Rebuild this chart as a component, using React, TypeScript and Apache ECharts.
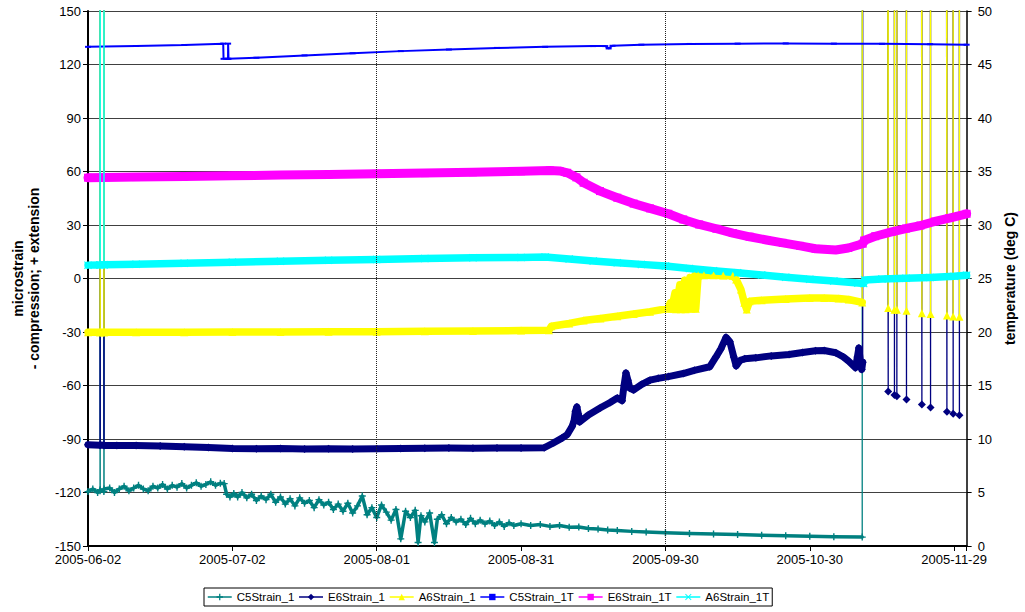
import React, { useEffect, useRef } from 'react';
import * as echarts from 'echarts';

// Off-scale logger reading (lines run up off the chart)
const OFF = 9999;

const START_UTC = Date.UTC(2005, 5, 2);
const X_TICK_DAYS = [0, 30, 60, 90, 120, 150, 180];
const X_GRID_DAYS = [60, 120];
const X_MAX_DAY = 182.6;

// [day since 2005-06-02, microstrain]
const c5Strain: [number, number][] = [
  [0, -119.5], [1, -118], [2, -120], [2.5, -119], [2.52, OFF], [2.54, -118.5], [3.3, -119.5], [3.32, OFF], [3.34, -118],
  [4.5, -117.5], [5.5, -120], [6.5, -118], [7.5, -116.5], [8.5, -119], [9.5, -117.5], [10.5, -116], [11.5, -118],
  [12.5, -119], [13.5, -116.5], [14.5, -117.5], [15.5, -115.5], [16.5, -118], [17.5, -116], [18.5, -117], [19.5, -115],
  [20.5, -117.5], [21.5, -116], [22.5, -114.5], [23.5, -116.5], [24.5, -115.5], [25.5, -114], [26.5, -116], [27.5, -114.8],
  [28.3, -115], [28.8, -121], [29.5, -122.5], [30.3, -120.5], [31.1, -122.5], [32, -120], [33, -123], [34, -121],
  [35, -124.5], [36, -122], [37, -124], [38, -121], [39, -125.5], [40, -122.5], [41, -126.5], [42, -123.5], [43, -127.5],
  [44, -123], [45, -126], [46, -124.5], [47, -128.5], [48, -124], [49, -127], [50, -125.5], [51, -129.5], [52, -126.5],
  [53, -130.5], [54, -126], [55, -131.5], [56, -127.5], [57, -122], [58, -132.5], [59, -128.5], [60, -134], [61, -127],
  [62, -131], [63, -135.5], [64, -129.5], [65, -146], [66, -130.5], [67, -134], [68, -130], [68.6, -148], [69.2, -133],
  [70, -136.5], [71, -131.5], [72, -148], [72.6, -135], [73.5, -132.5], [74.5, -137.5], [75.5, -134], [76.5, -136.5],
  [77.5, -135], [78.5, -138], [79.5, -134.5], [80.5, -137.5], [81.5, -135.5], [82.5, -137.5], [83.5, -136], [84.5, -138.5],
  [85.5, -136.5], [86.5, -139], [87.5, -137], [88.5, -138.5], [90, -137.5], [92, -138.5], [94, -138], [96, -139],
  [98, -138.5], [100, -139.5], [102, -139.3], [104, -140.2], [106, -140.5], [108, -141], [110, -141.3], [113, -141.8],
  [116, -142.2], [120, -142.6], [125, -143], [130, -143.3], [135, -143.6], [140, -144], [145, -144.3], [150, -144.6],
  [155, -144.8], [160.9, -145], [161.2, OFF],
];

const e6Strain: [number, number][] = [
  [0, -93.2], [2.5, -93.5], [2.52, OFF], [2.54, -93.4], [3.3, -93.5], [3.32, OFF], [3.34, -93.6], [6, -93.6], [10, -93.7],
  [15, -93.9], [20, -94.3], [25, -94.8], [30, -95.3], [35, -95.5], [40, -95.3], [45, -95.6], [50, -95.4], [55, -95.6],
  [60, -95.5], [65, -95.3], [70, -95.2], [75, -95.1], [80, -95.2], [85, -95.0], [90, -95.0], [94.8, -94.9],
  [96.8, -92.1], [98.5, -89.5], [99.6, -87.5], [100.6, -83.0], [101.0, -80.0], [101.3, -74.5], [101.6, -72.0],
  [101.9, -76.0], [102.2, -80.4], [104, -76.5], [106.5, -72.5], [108.5, -69.5], [110, -67.0], [111, -68.5],
  [111.4, -60], [111.8, -53], [112.2, -57], [112.6, -61.5], [113.4, -62.5], [115, -59.5], [116.8, -57.0],
  [118.5, -56.0], [120.6, -55.0], [123.7, -53.3], [126, -51.5], [129.2, -49.5], [130.5, -44], [131.5, -39.5],
  [132.6, -33.0], [133.4, -35.5], [134.2, -44], [134.7, -49.0], [135.5, -46], [136.5, -45], [138.8, -44.5],
  [142, -43.4], [145.7, -42.6], [148.5, -41.5], [151.2, -40.5], [153, -40.4], [155.4, -41.6], [157, -44.0],
  [158.1, -46.4], [159.5, -50.0], [159.9, -44], [160.2, -39], [160.5, -46], [160.8, -51], [161.0, -47], [161.2, OFF],
  [166.3, -63.3], [166.6, OFF], [167.6, -65.3], [167.9, OFF], [168.1, -66.0], [168.4, OFF], [170.1, -67.9], [170.4, OFF],
  [173.3, -70.7], [173.6, OFF], [175.1, -72.3], [175.4, OFF], [178.5, -74.7], [178.8, OFF], [179.8, -75.9], [180.1, OFF],
  [181.1, -76.7], [181.4, OFF],
];

const a6Strain: [number, number][] = [
  [0, -30.2], [2.5, -30.2], [2.52, OFF], [2.54, -30.2], [3.3, -30.2], [3.32, OFF], [3.34, -30.2], [10, -30.2], [20, -30.1],
  [30, -30.0], [40, -30.0], [50, -29.9], [60, -29.8], [70, -29.6], [80, -29.4], [90, -29.2], [95.8, -29.0],
  [96.3, -26.8], [100, -25.2], [103, -23.6], [106.5, -22.4], [110, -21.2], [113.4, -19.9], [116.8, -18.6],
  [120.6, -16.8], [121.0, -13.6], [121.3, -17.0], [122.0, -8.0], [122.2, -17.2], [123.0, -3.5], [123.2, -17.2],
  [124.0, -1.0], [124.2, -17.2], [125.1, 0.5], [125.3, -17.0], [126.1, 1.5], [126.3, -17.0], [126.8, 1.7], [128, 1.8],
  [130, 1.8], [132, 1.7], [134, 1.5], [134.7, -0.5], [135.7, -6.2], [136.4, -13.6], [136.9, -17.4], [137.5, -12.8],
  [140, -12.2], [145, -11.5], [150, -11.0], [153, -10.9], [156, -11.2], [158.1, -11.8], [160.9, -13.4], [161.2, OFF],
  [166.3, -16.5], [166.6, OFF], [167.6, -17.5], [167.9, OFF], [168.1, -17.5], [168.4, OFF], [170.1, -18.1], [170.4, OFF],
  [173.3, -19.5], [173.6, OFF], [175.1, -19.9], [175.4, OFF], [178.5, -20.7], [178.8, OFF], [179.8, -21.3], [180.1, OFF],
  [181.1, -21.5], [181.4, OFF],
];

// [day, deg C]
const c5Temp: [number, number][] = [
  [0, 46.65], [10, 46.73], [20, 46.82], [28.1, 46.95], [28.17, 45.53], [29.1, 45.53], [29.12, 46.95], [29.2, 45.53],
  [35, 45.63], [45, 45.85], [55, 46.05], [65, 46.25], [75, 46.4], [85, 46.55], [95, 46.65], [105, 46.72], [107.5, 46.72],
  [108.2, 46.5], [109, 46.75], [115, 46.85], [125, 46.92], [135, 46.95], [145, 46.97], [155, 46.95], [165, 46.93],
  [175, 46.9], [182.6, 46.85],
];

const e6Temp: [number, number][] = [
  [0, 34.42], [10, 34.48], [20, 34.53], [30, 34.6], [40, 34.67], [50, 34.72], [60, 34.78], [70, 34.85], [80, 34.93],
  [90, 35.02], [96, 35.1], [98, 35.05], [99.6, 34.88], [101.5, 34.45], [103, 33.95], [106.4, 33.17], [110, 32.55],
  [113.4, 32.0], [116.8, 31.55], [120.6, 31.05], [123.7, 30.52], [127, 30.05], [130.6, 29.65], [134, 29.25],
  [137.5, 28.9], [141, 28.6], [144.4, 28.33], [148, 28.05], [151.2, 27.78], [155.4, 27.67], [158, 27.85], [161.0, 28.25],
  [161.3, 28.55], [163.6, 28.95], [167, 29.35], [170, 29.67], [173, 29.95], [176, 30.33], [179, 30.65], [182.6, 31.05],
];

const a6Temp: [number, number][] = [
  [0, 26.25], [2.5, 26.27], [2.52, OFF], [2.54, 26.27], [3.3, 26.28], [3.32, OFF], [3.34, 26.28], [10, 26.33], [20, 26.43],
  [30, 26.53], [40, 26.62], [50, 26.7], [60, 26.78], [70, 26.87], [80, 26.93], [90, 26.97], [95, 27.0], [100, 26.83],
  [105, 26.63], [110, 26.47], [115, 26.32], [120, 26.17], [125, 25.93], [130, 25.72], [135, 25.53], [140, 25.33],
  [145, 25.12], [150, 24.93], [155, 24.77], [160, 24.57], [161.2, 24.53], [161.4, 24.87], [165, 24.95], [170, 25.02],
  [175, 25.1], [180, 25.2], [182.6, 25.3],
];

const FONT = '"Liberation Sans", Arial, Helvetica, sans-serif';
const PLUS = 'path://M4,0H6V4H10V6H6V10H4V6H0V4H4Z';
const XMARK = 'path://M1,0L5,4L9,0L10,1L6,5L10,9L9,10L5,6L1,10L0,9L4,5L0,1Z';
const DASH = 'path://M0,0H10V3H0Z';

const pad = (n: number) => (n < 10 ? '0' + n : '' + n);
const fmtDate = (d: number) => {
  const t = new Date(START_UTC + Math.round(d) * 86400000);
  return `${t.getUTCFullYear()}-${pad(t.getUTCMonth() + 1)}-${pad(t.getUTCDate())}`;
};

const DEFS = [
  { name: 'C5Strain_1', data: c5Strain, color: '#008080', y: 0, symbol: PLUS, size: 7, band: 3.5 },
  { name: 'E6Strain_1', data: e6Strain, color: '#000080', y: 0, symbol: 'diamond', size: 8, band: 7 },
  { name: 'A6Strain_1', data: a6Strain, color: '#FFFF00', y: 0, symbol: 'triangle', size: 8, band: 7.5 },
  { name: 'C5Strain_1T', data: c5Temp, color: '#0000FF', y: 1, symbol: DASH, size: [6, 2], band: 0 },
  { name: 'E6Strain_1T', data: e6Temp, color: '#FF00FF', y: 1, symbol: 'rect', size: 8, band: 9 },
  { name: 'A6Strain_1T', data: a6Temp, color: '#00FFFF', y: 1, symbol: XMARK, size: 8, band: 7.5 },
];

export default function App() {
  const ref = useRef<HTMLDivElement>(null);
  useEffect(() => {
    if (!ref.current) return;
    const chart = echarts.init(ref.current, undefined, { renderer: 'svg' });
    const series: any[] = [];
    DEFS.forEach((d, i) => {
      if (d.band > 0) {
        const band: any = {
          type: 'line',
          name: d.name + ' band',
          xAxisIndex: 0,
          yAxisIndex: d.y,
          data: d.data.map((p) => (p[1] >= OFF ? [p[0], '-'] : p)),
          showSymbol: false,
          symbol: 'none',
          connectNulls: false,
          silent: true,
          clip: true,
          lineStyle: { width: d.band, color: d.color, cap: 'round', join: 'round' },
          itemStyle: { color: d.color },
        };
        if (i === 0) {
          band.markLine = {
            silent: true,
            symbol: ['none', 'none'],
            label: { show: false },
            lineStyle: { type: 'dotted', color: '#222', width: 1 },
            data: X_GRID_DAYS.map((x) => ({ xAxis: x })),
          };
        }
        series.push(band);
      }
      series.push({
        type: 'line',
        name: d.name,
        xAxisIndex: 0,
        yAxisIndex: d.y,
        data: d.data,
        symbol: d.symbol,
        symbolSize: d.size,
        showSymbol: true,
        clip: true,
        lineStyle: { width: d.band > 0 ? 1.3 : 2, color: d.color },
        itemStyle: { color: d.color },
      });
    });

    const axisText = { color: '#000', fontSize: 13, fontFamily: FONT };
    chart.setOption({
      animation: false,
      backgroundColor: '#fff',
      grid: { left: 88, right: 53, top: 11, bottom: 66, containLabel: false },
      legend: {
        data: DEFS.map((d) => d.name),
        left: 204,
        top: 588,
        orient: 'horizontal',
        itemWidth: 24,
        itemHeight: 8,
        itemGap: 4,
        padding: [3, 3, 3, 3],
        borderColor: '#000',
        borderWidth: 1,
        selectedMode: false,
        lineStyle: { width: 1.5 },
        textStyle: { color: '#000', fontSize: 11.5, fontFamily: FONT },
      },
      xAxis: [
        {
          type: 'value',
          min: 0,
          max: X_MAX_DAY,
          interval: 30,
          axisLine: { show: true, onZero: false, lineStyle: { color: '#000', width: 2 } },
          axisTick: { show: true, length: 5, lineStyle: { color: '#000', width: 1 } },
          axisLabel: {
            ...axisText,
            margin: 7,
            formatter: (v: number) => (X_TICK_DAYS.indexOf(Math.round(v * 10) / 10) >= 0 ? fmtDate(v) : ''),
          },
          splitLine: { show: false },
        },
      ],
      yAxis: [
        {
          type: 'value',
          min: -150,
          max: 150,
          interval: 30,
          position: 'left',
          name: 'microstrain\n- compression; + extension',
          nameLocation: 'middle',
          nameRotate: 90,
          nameGap: 46,
          nameTextStyle: { color: '#000', fontWeight: 'bold', fontSize: 14, lineHeight: 16, fontFamily: FONT },
          axisLine: { show: true, onZero: false, lineStyle: { color: '#000', width: 2 } },
          axisTick: { show: true, length: 5, lineStyle: { color: '#000', width: 1 } },
          axisLabel: { ...axisText, margin: 7 },
          splitLine: { show: true, lineStyle: { color: '#404040', width: 1 } },
        },
        {
          type: 'value',
          min: 0,
          max: 50,
          interval: 5,
          position: 'right',
          name: 'temperature (deg C)',
          nameLocation: 'middle',
          nameRotate: 90,
          nameGap: 33,
          nameTextStyle: { color: '#000', fontWeight: 'bold', fontSize: 14, fontFamily: FONT },
          axisLine: { show: true, onZero: false, lineStyle: { color: '#000', width: 1.5 } },
          axisTick: { show: true, length: 5, lineStyle: { color: '#000', width: 1 } },
          axisLabel: { ...axisText, margin: 11 },
          splitLine: { show: false },
        },
      ],
      series,
    });
    return () => chart.dispose();
  }, []);
  return (
    <div
      ref={ref}
      style={{ position: 'absolute', left: 0, top: 0, width: 1025, height: 612, background: '#fff' }}
    />
  );
}
